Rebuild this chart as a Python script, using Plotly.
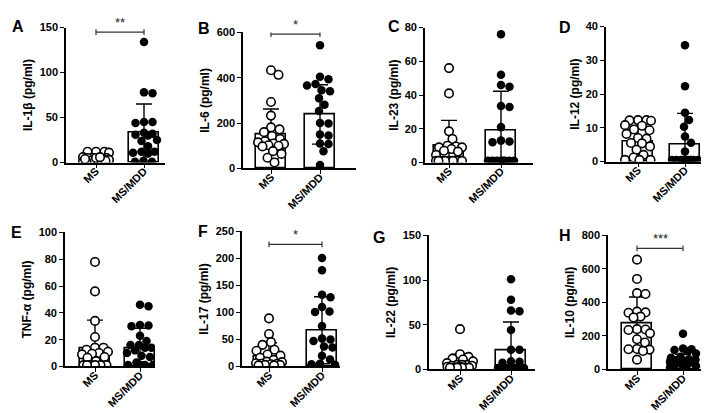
import numpy as np
import plotly.graph_objects as go

# ---------------- data ----------------
groups = ["MS", "MS/MDD"]
letters = ["A", "B", "C", "D", "E", "F", "G", "H"]
y_titles = ["IL-1β (pg/ml)", "IL-6 (pg/ml)", "IL-23 (pg/ml)", "IL-12 (pg/ml)",
            "TNF-α (pg/ml)", "IL-17 (pg/ml)", "IL-22 (pg/ml)", "IL-10 (pg/ml)"]

il1b_ms = [12, 12, 11, 12, 5, 5, 6, 4, 5, 3, 2, 2, 1, 1, 5, 3, 2, 1, 4, 6]
il1b_mdd = [134, 78, 77, 45, 45, 44, 33, 32, 31, 30, 25, 24, 18, 12, 11, 12, 10, 1, 1, 2]
il6_ms = [433, 413, 293, 233, 181, 172, 160, 143, 130, 120, 115, 110, 108, 102, 100, 97, 76, 64, 47, 26]
il6_mdd = [543, 404, 393, 372, 366, 345, 340, 310, 281, 253, 200, 198, 150, 145, 110, 108, 76, 15]
il23_ms = [56, 41, 18.5, 14, 10, 9.5, 9, 9, 8, 7, 6.5, 4.5, 1, 1, 1, 1, 1, 1, 1, 1]
il23_mdd = [76, 52, 46, 45, 33.5, 33, 21, 13, 12.5, 12, 1, 1, 1, 1, 1, 1, 1, 1]
il12_ms = [12.3, 12.3, 12.2, 12.1, 10.8, 10.6, 9.5, 9.3, 8.2, 7, 6.8, 5.5, 5.4, 4.5, 3.5, 2, 1.2, 0.5, 0.5, 0.5]
il12_mdd = [34.5, 22.3, 14.5, 12.3, 10.3, 7.4, 5.6, 3, 0.5, 0.5, 0.5, 0.5, 0.5, 0.5, 0.5, 0.5, 0.5, 0.5]
tnfa_ms = [78, 56, 34, 22, 14, 14, 12.5, 11, 10, 9.5, 9, 7, 6.5, 4, 1, 1, 1, 1, 1, 1]
tnfa_mdd = [46, 45, 31, 30.5, 30, 23, 19, 16, 16, 14, 14, 12, 10, 8, 7, 3, 1, 1, 1, 1]
il17_ms = [89, 60, 45, 40, 31, 29, 22, 20, 16, 12, 9, 8, 6, 5, 5, 4, 3, 3, 2, 2]
il17_mdd = [201, 178, 133, 128, 110, 102, 101, 75, 52, 50, 47, 37, 35, 20, 13, 5, 4, 3]
il22_ms = [45, 17, 14, 12, 11, 9, 7, 5, 5, 5, 4, 4, 3, 3, 2, 2, 2, 2, 2, 2]
il22_mdd = [101, 78, 66, 65, 44, 22, 22, 9, 8.5, 7.5, 1.5, 1.5, 1.5, 1.5, 1.5, 1.5, 1.5, 1.5]
il10_ms = [655, 540, 455, 450, 345, 340, 338, 315, 310, 240, 238, 235, 215, 180, 160, 122, 120, 118, 110, 58]
il10_mdd = [212, 125, 120, 115, 108, 95, 75, 70, 60, 58, 55, 50, 45, 42, 38, 30, 25, 20, 15, 10]

ms_points = [il1b_ms, il6_ms, il23_ms, il12_ms, tnfa_ms, il17_ms, il22_ms, il10_ms]
mdd_points = [il1b_mdd, il6_mdd, il23_mdd, il12_mdd, tnfa_mdd, il17_mdd, il22_mdd, il10_mdd]

# bar heights (mean) and error bars (SD): [MS, MS/MDD]
bar_means = [[5.5, 33], [152, 238], [9.8, 19], [6, 4.9], [13.6, 13.7], [19, 67], [6.5, 21], [272, 55]]
bar_sds = [[4, 32], [110, 131], [15.2, 23.3], [4.5, 9.4], [21, 14.8], [25, 62], [10.5, 32], [160, 35]]

y_ticks = [[0, 50, 100, 150], [0, 200, 400, 600], [0, 20, 40, 60, 80], [0, 10, 20, 30, 40],
           [0, 20, 40, 60, 80, 100], [0, 50, 100, 150, 200, 250], [0, 50, 100, 150],
           [0, 200, 400, 600, 800]]

sig_labels = ["**", "*", "", "", "", "*", "", "***"]
sig_levels = [145, 593, None, None, None, 226, None, 722]

# ---------------- layout geometry (pixels) ----------------
W, H = 709, 413
# axis-left x, MS center, MDD center, axis-right x, top y, bottom y
geom = [
    (58, 88, 136, 157, 14, 153),
    (235, 263, 312, 348, 19, 159),
    (417, 441, 493, 525, 14, 153),
    (598, 630, 677, 707, 13, 152),
    (57, 87, 132, 147, 225, 363),
    (234, 261, 314, 332, 224, 363),
    (421, 452, 503, 527, 228, 366),
    (600, 629, 675, 707, 228, 366),
]
letter_pos = [(10, 13), (196, 15), (386, 13), (557, 14), (8, 225), (195, 224), (371, 230), (557, 228)]

FONT = "Liberation Sans"
BAR_PX = 30
DOT = 8.5


def swarm(vals, ppu_y, dist_px, half_w=13.0, d=DOT):
    vals = np.asarray(vals, dtype=float)
    order = np.argsort(-vals, kind="stable")
    placed = []
    xs = np.zeros(len(vals))
    cands = [0.0]
    step = 0.5
    k = 1
    while k * step <= half_w:
        cands += [k * step, -k * step]
        k += 1
    for idx in order:
        y = vals[idx] * ppu_y
        chosen = None
        best_c, best_md = 0.0, -1
        for c in cands:
            md = min([np.hypot(c - px, y - py) for px, py in placed], default=1e9)
            if md >= d:
                chosen = c
                break
            if md > best_md:
                best_md, best_c = md, c
        if chosen is None:
            chosen = best_c
        placed.append((chosen, y))
        xs[idx] = chosen / dist_px
    return xs


fig = go.Figure()
annotations = []
shapes = []

for i in range(8):
    n = "" if i == 0 else str(i + 1)
    xa, ya = "x" + n, "y" + n
    ax_l, c0, c1, ax_r, top, bot = geom[i]
    dist = c1 - c0
    xr = [-(c0 - ax_l) / dist, 1 + (ax_r - c1) / dist]
    ymax = y_ticks[i][-1]
    ppu = (bot - top) / ymax

    fig.add_trace(go.Bar(
        x=[0, 1], y=bar_means[i], width=BAR_PX / dist,
        marker=dict(color="white", line=dict(color="black", width=1.6)),
        error_y=dict(type="data", array=bar_sds[i], symmetric=True, color="black",
                     thickness=1.4, width=8),
        xaxis=xa, yaxis=ya, showlegend=False, hoverinfo="skip"))

    xs_ms = swarm(ms_points[i], ppu, dist)
    xs_mdd = swarm(mdd_points[i], ppu, dist)
    fig.add_trace(go.Scatter(
        x=xs_ms, y=ms_points[i], mode="markers", xaxis=xa, yaxis=ya, showlegend=False,
        marker=dict(symbol="circle", size=DOT, color="white", line=dict(color="black", width=1.6))))
    fig.add_trace(go.Scatter(
        x=1 + xs_mdd, y=mdd_points[i], mode="markers", xaxis=xa, yaxis=ya, showlegend=False,
        marker=dict(symbol="circle", size=DOT, color="black", line=dict(color="black", width=0))))

    fig.layout["xaxis" + n] = dict(
        domain=[ax_l / W, ax_r / W], range=xr, anchor=ya,
        tickvals=[0, 1], showticklabels=False,
        showline=True, linecolor="black", linewidth=1.6,
        ticks="outside", ticklen=4, tickwidth=1.4, tickcolor="black",
        showgrid=False, zeroline=False, fixedrange=True)
    fig.layout["yaxis" + n] = dict(
        domain=[(H - bot) / H, (H - top) / H], range=[0, ymax], anchor=xa,
        tickvals=y_ticks[i],
        showline=True, linecolor="black", linewidth=1.6,
        ticks="outside", ticklen=4, tickwidth=1.4, tickcolor="black",
        tickfont=dict(family=FONT, size=11, color="black", weight="bold"),
        title=dict(text=y_titles[i], standoff=4,
                   font=dict(family=FONT, size=12, color="black", weight="bold")),
        showgrid=False, zeroline=False, fixedrange=True)

    # rotated category labels
    for gx, g in enumerate(groups):
        annotations.append(dict(x=gx, y=0, xref=xa, yref=ya, text="<b>%s</b>" % g,
                                textangle=-45, showarrow=False, xanchor="right",
                                yanchor="top", xshift=7, yshift=-1, borderpad=0,
                                font=dict(family=FONT, size=11, color="black")))

    lx, ly = letter_pos[i]
    annotations.append(dict(x=lx / W, y=(H - ly) / H, xref="paper", yref="paper",
                            text="<b>%s</b>" % letters[i], showarrow=False,
                            xanchor="center", yanchor="middle",
                            font=dict(family=FONT, size=16, color="black")))

    if sig_levels[i] is not None:
        yl = sig_levels[i]
        tick = 3 / ppu
        line = dict(color="#333333", width=1.2)
        shapes.append(dict(type="line", xref=xa, yref=ya, x0=0, x1=1, y0=yl, y1=yl, line=line))
        for xv in (0, 1):
            shapes.append(dict(type="line", xref=xa, yref=ya, x0=xv, x1=xv,
                               y0=yl - tick, y1=yl + tick, line=line))
        annotations.append(dict(x=0.5, y=yl, xref=xa, yref=ya, text=sig_labels[i],
                                showarrow=False, yanchor="bottom", yshift=0,
                                font=dict(family=FONT, size=13, color="#222222")))

fig.update_layout(width=W, height=H, margin=dict(l=0, r=0, t=0, b=0),
                  paper_bgcolor="white", plot_bgcolor="white",
                  annotations=annotations, shapes=shapes, showlegend=False,
                  bargap=0)

fig.write_html("out.html")
